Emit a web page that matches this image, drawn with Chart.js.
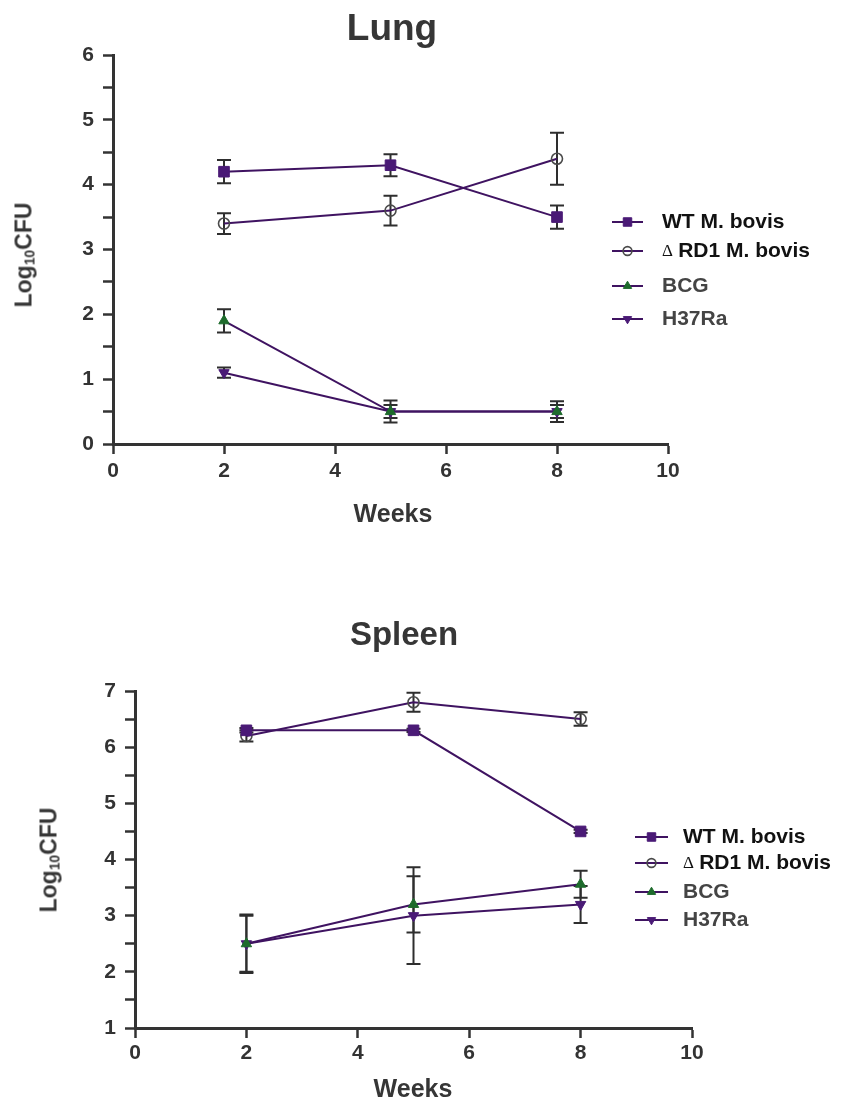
<!DOCTYPE html>
<html>
<head>
<meta charset="utf-8">
<script src="https://cdn.jsdelivr.net/npm/chart.js@4.4.1/dist/chart.umd.min.js"></script>
<style>
  html, body { margin: 0; padding: 0; background: #fff; }
  body { width: 852px; height: 1100px; position: relative; overflow: hidden;
         font-family: "Liberation Sans", Arial, Helvetica, sans-serif; }
  .panel { position: absolute; left: 0; width: 852px; height: 540px; }
  .txt { position: absolute; transform: translate(-50%, -50%); white-space: nowrap;
         font-weight: bold; color: #363636; line-height: 1; }
  .ytitle { transform: translate(-50%, -50%) rotate(-90deg); font-size: 23px; }
  .ytitle sub { font-size: 60%; vertical-align: -0.2em; line-height: 0; }
</style>
</head>
<body>
<div class="panel" style="top:0"><canvas id="lung" width="852" height="540"></canvas></div>
<div class="panel" style="top:560px"><canvas id="spleen" width="852" height="540"></canvas></div>

<div class="txt" style="left:392px; top:27px; font-size:37px;">Lung</div>
<div class="txt ytitle" style="left:24px; top:255px;">Log<sub>10</sub>CFU</div>
<div class="txt" style="left:393px; top:513px; font-size:25px;">Weeks</div>

<div class="txt" style="left:404px; top:633px; font-size:33px;">Spleen</div>
<div class="txt ytitle" style="left:49px; top:860px;">Log<sub>10</sub>CFU</div>
<div class="txt" style="left:413px; top:1088px; font-size:25px;">Weeks</div>

<script>
// Sampling times (weeks post infection)
const weeks = [2, 5, 8];
const seriesNames = ['WT M. bovis', '\u0394 RD1 M. bovis', 'BCG', 'H37Ra'];

// Lung bacterial load, log10 CFU (mean and error)
const lungWT      = [4.2, 4.3, 3.5];
const lungWTErr   = [0.18, 0.17, 0.18];
const lungRD1     = [3.4, 3.6, 4.4];
const lungRD1Err  = [0.16, 0.23, 0.4];
const lungBCG     = [1.9, 0.5, 0.5];
const lungBCGErr  = [0.18, 0.17, 0.16];
const lungH37     = [1.1, 0.5, 0.5];
const lungH37Err  = [0.08, 0.1, 0.1];

// Spleen bacterial load, log10 CFU (mean and error)
const spleenWT      = [6.3, 6.3, 4.5];
const spleenWTErr   = [0.04, 0.03, 0.03];
const spleenRD1     = [6.2, 6.8, 6.5];
const spleenRD1Err  = [0.1, 0.17, 0.12];
const spleenBCG     = [2.5, 3.2, 3.56];
const spleenBCGErr  = [0.52, 0.5, 0.24];
const spleenH37     = [2.5, 3.0, 3.2];
const spleenH37Err  = [0.5, 0.86, 0.33];

// Axis ranges and tick steps
const xRange = [0, 10], xStep = 2;
const lungYRange = [0, 6];
const spleenYRange = [1, 7];
const yMinorStep = 0.5;

const LINE = '#3f1361';
const PURPLE = '#4a1a76';
const GREEN = '#1e6b2c';
const AXIS = '#333333';
const TICK_FONT = { family: "'Liberation Sans',Arial,sans-serif", size: 21, weight: 'bold' };

const styles = [
  { pointStyle: 'rect', radius: 7.5, bg: PURPLE, border: PURPLE, bw: 1, rotation: 0 },
  { pointStyle: 'circle', radius: 5.5, bg: 'rgba(255,255,255,0)', border: '#4a4a4a', bw: 1.6, rotation: 0 },
  { pointStyle: 'triangle', radius: 6, bg: GREEN, border: GREEN, bw: 1, rotation: 0 },
  { pointStyle: 'triangle', radius: 6, bg: PURPLE, border: PURPLE, bw: 1, rotation: 180 }
];

function makeDatasets(values, errors) {
  return values.map((vals, k) => ({
    label: seriesNames[k],
    data: weeks.map((w, i) => ({ x: w, y: vals[i] })),
    errors: errors[k],
    showLine: true,
    tension: 0,
    borderColor: LINE,
    borderWidth: 2,
    pointStyle: styles[k].pointStyle,
    pointRadius: styles[k].radius,
    pointRotation: styles[k].rotation,
    pointBackgroundColor: styles[k].bg,
    pointBorderColor: styles[k].border,
    pointBorderWidth: styles[k].bw,
    clip: false
  }));
}

// Vertical error bars with caps, drawn under the markers
const errorBars = {
  id: 'errorBars',
  beforeDatasetsDraw(chart) {
    const ctx = chart.ctx, ys = chart.scales.y;
    ctx.save();
    ctx.strokeStyle = '#2e2e2e';
    ctx.lineWidth = 2;
    chart.data.datasets.forEach((ds, di) => {
      const meta = chart.getDatasetMeta(di);
      meta.data.forEach((pt, i) => {
        const v = ds.data[i].y, e = ds.errors[i];
        const x = pt.x, y1 = ys.getPixelForValue(v + e), y2 = ys.getPixelForValue(v - e);
        ctx.beginPath();
        ctx.moveTo(x, y1); ctx.lineTo(x, y2);
        ctx.moveTo(x - 7, y1); ctx.lineTo(x + 7, y1);
        ctx.moveTo(x - 7, y2); ctx.lineTo(x + 7, y2);
        ctx.stroke();
      });
    });
    ctx.restore();
  }
};

// Legend: short line segment with the series marker, then the label
const sideLegend = {
  id: 'sideLegend',
  afterDraw(chart, args, opts) {
    const ctx = chart.ctx;
    ctx.save();
    chart.data.datasets.forEach((ds, k) => {
      const y = opts.rows[k];
      ctx.strokeStyle = ds.borderColor;
      ctx.lineWidth = 2;
      ctx.beginPath();
      ctx.moveTo(opts.x1, y); ctx.lineTo(opts.x2, y);
      ctx.stroke();
      ctx.fillStyle = ds.pointBackgroundColor;
      ctx.strokeStyle = ds.pointBorderColor;
      ctx.lineWidth = ds.pointBorderWidth;
      Chart.helpers.drawPoint(ctx, {
        pointStyle: ds.pointStyle,
        radius: ds.pointRadius * 0.8,
        rotation: ds.pointRotation,
        borderWidth: ds.pointBorderWidth
      }, (opts.x1 + opts.x2) / 2, y);

      ctx.fillStyle = opts.colors[k];
      ctx.textBaseline = 'middle';
      ctx.textAlign = 'left';
      let label = ds.label, tx = opts.textX;
      if (label.startsWith('\u0394')) {
        ctx.font = "17px 'Liberation Serif', serif";
        ctx.fillText('\u0394', tx, y + 1);
        tx += ctx.measureText('\u0394 ').width + 1;
        label = label.slice(2);
      }
      ctx.font = "bold 21px 'Liberation Sans', Arial, sans-serif";
      ctx.fillText(label, tx, y);
    });
    ctx.restore();
  }
};

function makeChart(id, values, errors, yRange, box, legend) {
  return new Chart(document.getElementById(id), {
    type: 'scatter',
    data: { datasets: makeDatasets(values, errors) },
    plugins: [errorBars, sideLegend],
    options: {
      responsive: false,
      animation: false,
      events: [],
      layout: { padding: { left: 0, top: box.top, right: box.right, bottom: 0 } },
      plugins: {
        legend: { display: false },
        tooltip: { enabled: false },
        sideLegend: legend
      },
      scales: {
        x: {
          type: 'linear', min: xRange[0], max: xRange[1],
          afterFit(s) { s.height = box.xHeight; },
          ticks: { stepSize: xStep, color: AXIS, font: TICK_FONT, padding: box.xPad, maxRotation: 0, autoSkip: false },
          grid: { drawOnChartArea: false, drawTicks: true, tickLength: 10, tickWidth: 2.5, tickColor: AXIS },
          border: { display: true, color: AXIS, width: 3 }
        },
        y: {
          type: 'linear', min: yRange[0], max: yRange[1],
          afterFit(s) { s.width = box.yWidth; },
          ticks: {
            stepSize: yMinorStep, color: AXIS, font: TICK_FONT, padding: 9, autoSkip: false,
            callback: v => (Math.abs(v - Math.round(v)) < 1e-6 ? String(Math.round(v)) : '')
          },
          grid: { drawOnChartArea: false, drawTicks: true, tickLength: 10, tickWidth: 2.5, tickColor: AXIS },
          border: { display: true, color: AXIS, width: 3 }
        }
      }
    }
  });
}

makeChart('lung',
  [lungWT, lungRD1, lungBCG, lungH37],
  [lungWTErr, lungRD1Err, lungBCGErr, lungH37Err],
  lungYRange,
  { top: 55, right: 184, xHeight: 96, yWidth: 113, xPad: 5 },
  { x1: 612, x2: 643, textX: 662, rows: [222, 251, 286, 319],
    colors: ['#111111', '#111111', '#444444', '#444444'] });

makeChart('spleen',
  [spleenWT, spleenRD1, spleenBCG, spleenH37],
  [spleenWTErr, spleenRD1Err, spleenBCGErr, spleenH37Err],
  spleenYRange,
  { top: 131, right: 160, xHeight: 72, yWidth: 135, xPad: 3 },
  { x1: 635, x2: 668, textX: 683, rows: [277, 303, 332, 360],
    colors: ['#111111', '#111111', '#444444', '#444444'] });
</script>
</body>
</html>
